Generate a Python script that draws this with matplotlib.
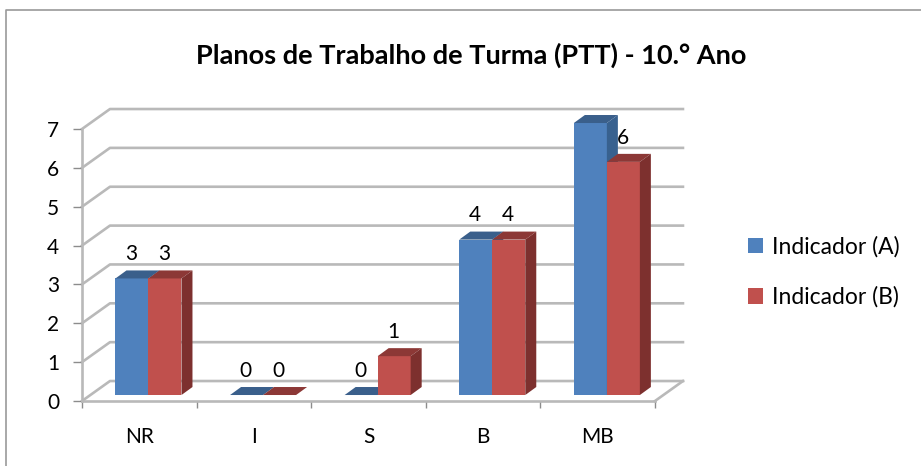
import matplotlib
matplotlib.use("Agg")
import matplotlib.pyplot as plt
from matplotlib.lines import Line2D

categories = ["NR", "I", "S", "B", "MB"]
indicador_a = [3, 0, 0, 4, 7]
indicador_b = [3, 0, 1, 4, 6]
y_ticks = [0, 1, 2, 3, 4, 5, 6, 7]

plt.rcParams['font.family'] = ['Lato', 'DejaVu Sans']

W, H = 921, 466
fig = plt.figure(figsize=(W / 100, H / 100), dpi=100)
ax = fig.add_axes([82 / W, (H - 401) / H, 573 / W, 272 / H])
ax.set_xlim(0, 5)
ax.set_ylim(0, 7)

GRID = '#b9b9b9'
wall_dx, wall_dy = 0.244, 0.514   # back wall shift
bar_dx, bar_dy = 0.096, 0.206     # bar depth
base = 0.154
shift = 0.08
width = 0.288

# back wall grid
for k in y_ticks:
    ax.plot([0, wall_dx, 5 + wall_dx], [k, k + wall_dy, k + wall_dy],
            color=GRID, lw=1.9, clip_on=False, zorder=1)
ax.plot([5, 5 + wall_dx], [0, wall_dy], color=GRID, lw=1.9, clip_on=False, zorder=1)


def draw_series(values, offset, front, top, side, label):
    xs = [i + 0.5 + shift + offset for i in range(len(values))]
    bars = ax.bar(xs, values, width, bottom=base, color=front, align='edge',
                  label=label, zorder=3, clip_on=False)
    for x, v in zip(xs, values):
        y = base + v
        ax.fill([x, x + bar_dx, x + width + bar_dx, x + width],
                [y, y + bar_dy, y + bar_dy, y], color=top, lw=0, zorder=3, clip_on=False)
        if v > 0:
            ax.fill([x + width, x + width + bar_dx, x + width + bar_dx, x + width],
                    [base, base + bar_dy, y + bar_dy, y], color=side, lw=0, zorder=3, clip_on=False)
        ax.annotate(str(v), (x + width / 2, y), xytext=(-0.5, 17.5), textcoords='offset points',
                    ha='center', va='center', fontsize=15, color='black', zorder=5)
    return bars


draw_series(indicador_a, -width, '#4f81bd', '#3a5f8b', '#38618f', 'Indicador (A)')
draw_series(indicador_b, 0, '#c0504d', '#8c3836', '#7d302e', 'Indicador (B)')

for s in ['top', 'right']:
    ax.spines[s].set_visible(False)
for s in ['left', 'bottom']:
    ax.spines[s].set_color(GRID)
    ax.spines[s].set_linewidth(1.9)
    ax.spines[s].set_zorder(2)

ax.set_yticks(y_ticks)
ax.tick_params(axis='y', length=6.5, width=1, color='#8c8c8c', pad=10, labelsize=15)
ax.set_xticks(range(6))
ax.set_xticklabels([])
ax.tick_params(axis='x', which='major', length=5, width=1, color='#8c8c8c')
ax.set_xticks([i + 0.5 for i in range(5)], minor=True)
ax.set_xticklabels(categories, minor=True)
ax.tick_params(axis='x', which='minor', length=0, pad=19, labelsize=15)

fig.text(471 / W, (H - 55) / H, "Planos de Trabalho de Turma (PTT) - 10.° Ano",
         ha='center', va='center', fontsize=19.5, fontweight='bold', color='black')

fig.legend(loc='center left', bbox_to_anchor=(748 / W, (H - 272) / H), frameon=False,
           fontsize=16.5, handlelength=0.66, handleheight=0.66, handletextpad=0.4,
           labelspacing=1.27, borderpad=0, borderaxespad=0)

# chart border
fig.add_artist(Line2D([6 / W, 6 / W, 1], [0, (H - 10) / H, (H - 10) / H],
                      color='#9a9a9a', lw=1.2, transform=fig.transFigure))

fig.savefig('out.png', dpi=100)
